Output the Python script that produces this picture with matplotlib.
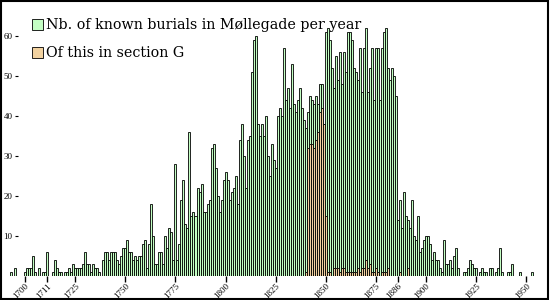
import matplotlib
matplotlib.use("Agg")
import matplotlib.pyplot as plt
import matplotlib.patches as mpatches
import numpy as np

# burials per year, 1693-1953
first_year = 1693
burials = [1, 0, 2, 0, 0, 0, 0,
           1, 2, 2, 2, 5, 1, 0, 2, 0, 1,
           1, 6, 0, 0, 1, 4, 2, 1, 1, 0,
           1, 1, 2, 1, 3, 2, 2, 2, 2, 3,
           6, 3, 3, 1, 3, 2, 2, 1, 0, 4,
           6, 6, 4, 6, 6, 6, 4, 3, 5, 7,
           7, 9, 6, 6, 4, 5, 4, 5, 5, 8,
           9, 2, 8, 18, 10, 3, 3, 6, 6, 3,
           10, 7, 12, 11, 4, 28, 4, 8, 19, 24,
           13, 12, 36, 15, 16, 15, 22, 21, 23, 16,
           16, 18, 19, 32, 33, 27, 20, 16, 19, 24,
           26, 24, 19, 21, 22, 25, 18, 34, 38, 30,
           22, 34, 35, 51, 59, 60, 38, 35, 38, 35,
           40, 30, 25, 33, 29, 27, 40, 42, 40, 57,
           44, 47, 42, 53, 43, 41, 44, 47, 42, 39,
           37, 41, 45, 44, 43, 45, 43, 48, 48, 38,
           61, 62, 59, 52, 47, 55, 49, 56, 48, 56,
           51, 61, 61, 59, 52, 51, 49, 57, 46, 57,
           62, 46, 52, 57, 44, 57, 57, 44, 57, 61,
           62, 52, 49, 52, 50, 45, 14, 19, 12, 21,
           15, 14, 12, 19, 10, 9, 15, 6, 7, 9,
           10, 10, 8, 4, 6, 4, 4, 2, 1, 9,
           3, 3, 4, 2, 5, 7, 2, 0, 0, 1,
           1, 2, 4, 3, 2, 2, 0, 1, 2, 1,
           1, 0, 2, 2, 0, 1, 2, 7, 1, 0,
           0, 1, 1, 3, 0, 0, 0, 1, 0, 0,
           0, 0, 0, 1]
years = np.arange(first_year, first_year + len(burials))

# section G
first_year_g = 1840
section_g = [1, 32, 33, 33, 32, 34, 36, 41, 42, 38,
             15, 1, 1, 0, 2, 2, 2, 1, 2, 2,
             1, 1, 1, 1, 1, 1, 2, 1, 2, 2,
             4, 2, 3, 1, 1, 2, 1, 0, 1, 1,
             1, 2, 0, 0, 0, 0, 0, 1, 0, 0,
             0, 2]
years_g = np.arange(first_year_g, first_year_g + len(section_g))

xticks = [1700, 1711, 1725, 1750, 1775, 1800, 1825, 1850, 1875, 1886, 1900, 1925, 1950]
yticks = [10, 20, 30, 40, 50, 60]

green = "#c4ffc4"
orange = "#f2d2a0"
serif = ["DejaVu Serif"]
tick_font = ["Liberation Serif", "DejaVu Serif"]

b = np.array(burials)
g = np.array(section_g)

fig = plt.figure(figsize=(5.5, 3), dpi=100)
ax = fig.add_axes([0, 0.081, 1, 0.919])

ax.bar(years[b > 0], b[b > 0], width=1, color=green, edgecolor="black", linewidth=0.6,
       label="Nb. of known burials in M\u00f8llegade per year")
ax.bar(years_g[g > 0], g[g > 0], width=1, color=orange, edgecolor="black", linewidth=0.6,
       label="Of this in section G")

ax.set_xlim(1687.5, 1961.8)
ax.set_ylim(0, 0.919 * 300 / 4)

for s in ["top", "right", "bottom"]:
    ax.spines[s].set_visible(False)
ax.spines["left"].set_position(("data", 1696.5))
ax.spines["left"].set_color("none")

ax.set_xticks(xticks)
ax.set_xticklabels([str(t) for t in xticks], rotation=45, ha="right",
                   rotation_mode="anchor", fontsize=6.5, family=tick_font)
ax.tick_params(axis="x", length=4, width=1, pad=0.5)
ax.set_yticks(yticks)
ax.set_yticklabels([str(t) for t in yticks], fontsize=6.5, family=tick_font)
ax.tick_params(axis="y", length=2.5, width=0.8, pad=1.5)

ax.legend(loc="upper left", bbox_to_anchor=(0.047, 0.955), frameon=False,
          prop={"family": serif, "size": 10.3}, handlelength=0.8, handleheight=0.8,
          handletextpad=0.2, labelspacing=1.0, borderaxespad=0)

fig.patches.append(mpatches.Rectangle((0.002, 0.003), 0.995, 0.994, transform=fig.transFigure,
                                      fill=False, edgecolor="black", linewidth=1.5))

fig.savefig("out.png", dpi=100)
